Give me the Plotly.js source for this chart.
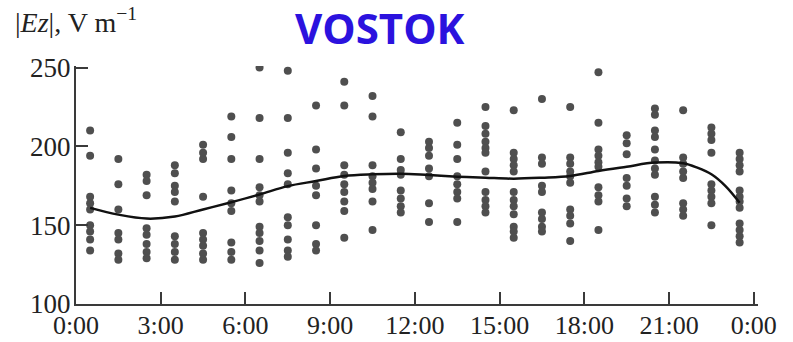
<!DOCTYPE html>
<html>
<head>
<meta charset="utf-8">
<script src="https://cdn.plot.ly/plotly-3.0.1.min.js"></script>
<style>
  html, body { margin: 0; padding: 0; background: #fff; }
  #chart { width: 793px; height: 342px; }
</style>
</head>
<body>
<div id="chart"></div>
<script>
// Hourly |Ez| samples (V/m), one list per UT hour bin, centred on the half hour
const hourCentres = [0.5, 1.5, 2.5, 3.5, 4.5, 5.5, 6.5, 7.5, 8.5, 9.5, 10.5, 11.5,
                     12.5, 13.5, 14.5, 15.5, 16.5, 17.5, 18.5, 19.5, 20.5, 21.5, 22.5, 23.5];

const ez00 = [210, 194, 168, 164, 160, 150, 146, 141, 134];
const ez01 = [192, 176, 160, 145, 141, 132, 128];
const ez02 = [182, 178, 169, 148, 144, 138, 133, 129];
const ez03 = [188, 183, 175, 171, 165, 143, 138, 133, 128];
const ez04 = [201, 196, 192, 168, 145, 141, 137, 132, 128];
const ez05 = [219, 206, 192, 172, 164, 159, 139, 133, 128];
const ez06 = [250, 218, 192, 174, 169, 165, 149, 145, 140, 134, 126];
const ez07 = [248, 218, 196, 183, 176, 155, 150, 141, 134, 130];
const ez08 = [226, 198, 186, 175, 169, 150, 138, 134];
const ez09 = [241, 226, 188, 182, 176, 171, 165, 159, 142];
const ez10 = [232, 219, 188, 181, 177, 173, 165, 147];
const ez11 = [209, 192, 185, 182, 172, 167, 162, 158];
const ez12 = [203, 199, 194, 186, 181, 164, 152];
const ez13 = [215, 201, 192, 181, 176, 171, 167, 152];
const ez14 = [225, 213, 208, 203, 199, 196, 184, 171, 166, 162, 158];
const ez15 = [223, 196, 192, 188, 184, 171, 166, 162, 157, 149, 146, 142];
const ez16 = [230, 193, 189, 175, 171, 158, 154, 149, 146];
const ez17 = [225, 193, 189, 184, 181, 177, 160, 156, 151, 140];
const ez18 = [247, 215, 198, 194, 190, 187, 174, 169, 165, 147];
const ez19 = [207, 202, 195, 180, 175, 167, 162];
const ez20 = [224, 220, 210, 206, 198, 191, 186, 182, 168, 163, 158];
const ez21 = [223, 193, 189, 184, 180, 164, 160, 156];
const ez22 = [212, 208, 204, 196, 176, 172, 168, 164, 150];
const ez23 = [196, 192, 188, 184, 172, 168, 165, 161, 151, 147, 143, 139];

// Smoothed diurnal mean curve
const fitHours = [0.5, 1.5, 2.5, 3.5, 4.5, 5.5, 6.5, 7.5, 8.5, 9.5, 10.5, 11.5,
                  12.5, 13.5, 14.5, 15.5, 16.5, 17.5, 18.5, 19.5, 20.5, 21.5, 22.0, 22.5, 23.0, 23.5];
const fitEz = [161, 156.7, 154.2, 155.5, 160, 164.6, 169.5, 174.8, 178, 181.2, 182.3, 182.7,
               181.8, 180.8, 180.1, 179.5, 180.1, 181.2, 184.4, 187.1, 189.7, 189.3, 186.5, 182.3, 174.8, 164.2];

// Axis ticks
const xTickVals = [0, 3, 6, 9, 12, 15, 18, 21, 24];
const xTickText = ['0:00', '3:00', '6:00', '9:00', '12:00', '15:00', '18:00', '21:00', '0:00'];
const yTickVals = [100, 150, 200, 250];

const hourLists = [ez00, ez01, ez02, ez03, ez04, ez05, ez06, ez07, ez08, ez09, ez10, ez11,
                   ez12, ez13, ez14, ez15, ez16, ez17, ez18, ez19, ez20, ez21, ez22, ez23];

const px = [], py = [];
hourLists.forEach((vals, i) => {
  vals.forEach(v => { px.push(hourCentres[i]); py.push(v); });
});

const serif = 'Liberation Serif, Times New Roman, serif';
const axisColor = '#3a3a3a';

const traces = [
  {
    x: px, y: py, type: 'scatter', mode: 'markers',
    marker: { size: 8, color: '#4f4f4f' },
    hoverinfo: 'x+y', showlegend: false
  },
  {
    x: fitHours, y: fitEz, type: 'scatter', mode: 'lines',
    line: { color: '#111', width: 2.5, shape: 'spline', smoothing: 1 },
    hoverinfo: 'skip', showlegend: false
  }
];

// Ranges run a touch past the last ticks so the 24:00 and 250 ticks stay drawn
const layout = {
  width: 793, height: 342,
  margin: { l: 76, r: 35, t: 66, b: 38 },
  paper_bgcolor: '#fff', plot_bgcolor: '#fff',
  font: { family: serif, size: 26, color: '#222' },
  xaxis: {
    range: [0, 24.15], tickvals: xTickVals, ticktext: xTickText,
    showgrid: false, zeroline: false,
    showline: true, linecolor: axisColor, linewidth: 2,
    ticks: 'inside', ticklen: 12, tickwidth: 2, tickcolor: axisColor,
    ticklabelstandoff: -3,
    tickfont: { family: serif, size: 26, color: '#222' }
  },
  yaxis: {
    range: [100, 251], tickvals: yTickVals,
    showgrid: false, zeroline: false,
    showline: true, linecolor: axisColor, linewidth: 2,
    ticks: 'inside', ticklen: 12, tickwidth: 2, tickcolor: axisColor,
    ticklabelstandoff: -2,
    tickfont: { family: serif, size: 27, color: '#222' }
  },
  annotations: [
    {
      text: '|<i>Ez</i>|, V m<sup>−1</sup>',
      xref: 'paper', yref: 'paper', x: -0.092, y: 1.11,
      xanchor: 'left', yanchor: 'bottom', showarrow: false,
      font: { family: serif, size: 28, color: '#222' }
    },
    {
      text: '<b>VOSTOK</b>',
      xref: 'paper', yref: 'paper', x: 0.446, y: 1.035,
      xanchor: 'center', yanchor: 'bottom', showarrow: false,
      font: { family: 'Open Sans, sans-serif', size: 42, color: '#2b12de' }
    }
  ]
};

Plotly.newPlot('chart', traces, layout, { displayModeBar: false, staticPlot: true });
</script>
</body>
</html>
